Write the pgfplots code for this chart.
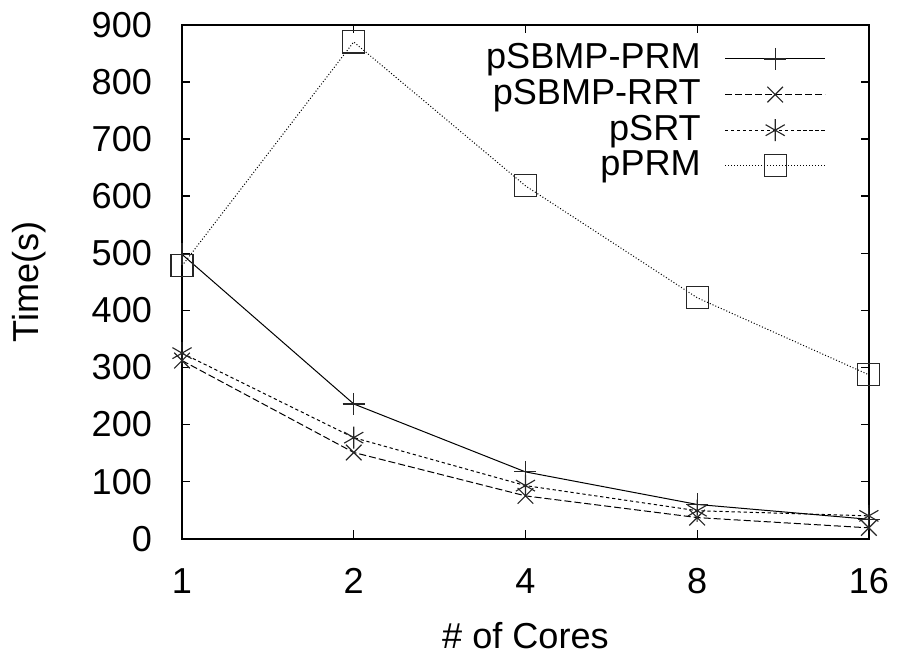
\documentclass[border=0pt]{standalone}
\usepackage{pgfplots}
\pgfplotsset{compat=1.18}
\usepackage{fontspec}
\setmainfont{Liberation Sans}
\begin{document}
\fontsize{14.4}{17}\selectfont
\begin{tikzpicture}
\begin{axis}[
    scale only axis,
    width=274pt,
    height=205pt,
    xmin=0, xmax=4,
    ymin=0, ymax=900,
    xtick={0,1,2,3,4},
    xticklabels={1,2,4,8,16},
    ytick={0,100,...,900},
    tick align=inside,
    major tick length=3.3pt,
    axis line style={line width=0.8pt},
    every tick/.style={black, line width=0.5pt},
    xlabel={\# of Cores},
    ylabel={Time(s)},
    tick label style={font=\fontsize{14.4}{17}\selectfont},
    label style={font=\fontsize{14.4}{17}\selectfont},
    xticklabel style={yshift=-6.8pt},
    yticklabel style={xshift=-7pt},
    xlabel style={at={(axis description cs:0.5,-0.189)}, anchor=center},
    ylabel style={at={(axis description cs:-0.223,0.5)}, anchor=center},
    /pgf/number format/assume math mode=true,
    legend style={draw=none, fill=none, at={(0.949,0.979)}, anchor=north east,
        font=\fontsize{14.4}{17}\selectfont, row sep=0pt, column sep=8.5pt,
        nodes={inner sep=1pt}},
    legend cell align=right,
    legend plot pos=right,
    legend image code/.code={
        \draw[mark repeat=2, mark phase=2, #1] plot coordinates {(0pt,0pt) (20pt,0pt) (40pt,0pt)};
    },
    every axis plot/.append style={black, line width=0.4pt, mark size=4.4pt,
        mark options={solid, line width=0.45pt, black!85}},
]
\addplot[solid, mark=+] coordinates {
    (0,498) (1,236) (2,117) (3,60) (4,34)
};
\addlegendentry{pSBMP-PRM}
\addplot[dash pattern=on 2.8pt off 1.2pt, mark=x] coordinates {
    (0,312) (1,151) (2,75) (3,37) (4,19)
};
\addlegendentry{pSBMP-RRT}
\addplot[dash pattern=on 1.3pt off 1.1pt, mark=asterisk] coordinates {
    (0,325) (1,177) (2,93) (3,49) (4,40)
};
\addlegendentry{pSRT}
\addplot[dash pattern=on 0.4pt off 0.8pt, mark=square] coordinates {
    (0,478) (1,870) (2,618) (3,422) (4,287)
};
\addlegendentry{pPRM}
% page frame with the reference's margins
\path (axis description cs:-0.2686,-0.226) (axis description cs:1.047,1.045);
\end{axis}
\end{tikzpicture}
\end{document}
